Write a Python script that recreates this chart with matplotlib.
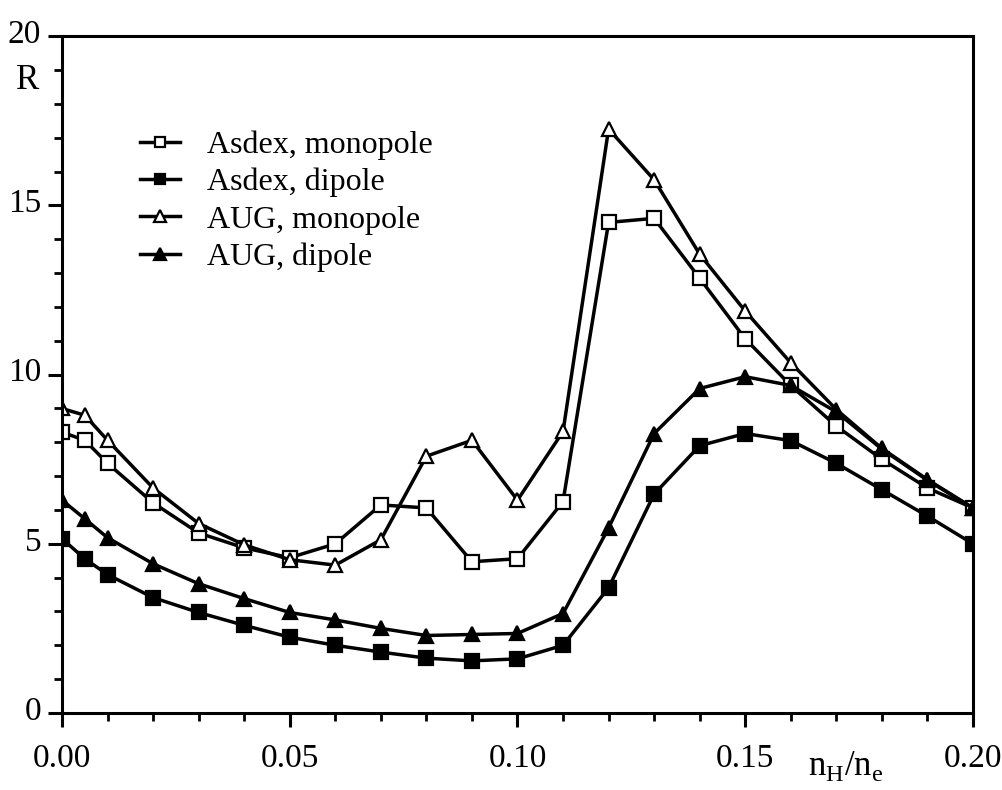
import matplotlib
matplotlib.use("Agg")
import matplotlib.pyplot as plt
import matplotlib.transforms as mtransforms
from matplotlib.ticker import MultipleLocator

x = [0.0, 0.005, 0.01, 0.02, 0.03, 0.04, 0.05, 0.06, 0.07, 0.08, 0.09, 0.10,
     0.11, 0.12, 0.13, 0.14, 0.15, 0.16, 0.17, 0.18, 0.19, 0.20]

asdex_mono = [8.3, 8.06, 7.38, 6.21, 5.32, 4.88, 4.59, 5.0, 6.15, 6.06, 4.47, 4.56,
              6.25, 14.5, 14.62, 12.85, 11.06, 9.68, 8.48, 7.5, 6.65, 6.06]
asdex_dip = [5.15, 4.56, 4.09, 3.41, 2.97, 2.59, 2.24, 2.0, 1.8, 1.62, 1.54, 1.6,
             2.0, 3.7, 6.47, 7.9, 8.26, 8.05, 7.38, 6.6, 5.82, 5.0]
aug_mono = [9.0, 8.8, 8.06, 6.65, 5.6, 4.97, 4.53, 4.37, 5.12, 7.59, 8.06, 6.29,
            8.32, 17.26, 15.76, 13.56, 11.88, 10.35, 8.97, 7.82, 6.9, 6.06]
aug_dip = [6.29, 5.74, 5.18, 4.41, 3.82, 3.38, 2.97, 2.75, 2.5, 2.29, 2.32, 2.35,
           2.94, 5.47, 8.26, 9.59, 9.94, 9.68, 8.9, 7.8, 6.88, 6.06]

labels = ["Asdex, monopole", "Asdex, dipole", "AUG, monopole", "AUG, dipole"]
xticklabels = ["0.00", "0.05", "0.10", "0.15", "0.20"]
yticklabels = ["0", "5", "10", "15", "20"]

plt.rcParams['font.family'] = ['Liberation Serif', 'DejaVu Serif']
plt.rcParams['mathtext.fontset'] = 'custom'
plt.rcParams['mathtext.rm'] = 'Liberation Serif'

fig = plt.figure(figsize=(10.02, 7.90), dpi=100)
ax = fig.add_axes([0.0619, 0.0975, 0.9091, 0.8565])

lw = 2.5
ms = 9.5
mew = 1.6
ax.plot(x, asdex_mono, '-', color='black', lw=lw, marker='s', ms=ms,
        mfc='white', mec='black', mew=mew, label=labels[0])
ax.plot(x, asdex_dip, '-', color='black', lw=lw, marker='s', ms=ms,
        mfc='black', mec='black', mew=mew, label=labels[1])
ax.plot(x, aug_mono, '-', color='black', lw=lw, marker='^', ms=ms + 1,
        mfc='white', mec='black', mew=mew, label=labels[2])
ax.plot(x, aug_dip, '-', color='black', lw=lw, marker='^', ms=ms + 1,
        mfc='black', mec='black', mew=mew, label=labels[3])

ax.set_xlim(0, 0.20)
ax.set_ylim(0, 20)
ax.set_xticks([0, 0.05, 0.10, 0.15, 0.20])
ax.set_xticklabels(xticklabels)
ax.set_yticks([0, 5, 10, 15, 20])
ax.set_yticklabels(yticklabels)
ax.xaxis.set_minor_locator(MultipleLocator(0.01))
ax.yaxis.set_minor_locator(MultipleLocator(1))
ax.tick_params(which='major', direction='out', length=10, width=2.2,
               labelsize=24, top=False, right=False)
ax.tick_params(axis='x', which='major', pad=12)
ax.tick_params(axis='y', which='major', pad=5)
ax.tick_params(which='minor', direction='out', length=6, width=2.0,
               top=False, right=False)
for s in ax.spines.values():
    s.set_linewidth(2.2)

# y tick labels sit slightly above their ticks in the original
offset = mtransforms.ScaledTranslation(0, 5 / 100, fig.dpi_scale_trans)
for lab in ax.get_yticklabels():
    lab.set_transform(lab.get_transform() + offset)

ax.text(-0.05, 0.935, "R", transform=ax.transAxes, fontsize=25,
        ha='left', va='center')
ax.text(0.86, -0.078, r"n$_\mathregular{H}$/n$_\mathregular{e}$",
        transform=ax.transAxes, fontsize=25, ha='center', va='center')

leg = ax.legend(loc='upper left', bbox_to_anchor=(0.072, 0.88), frameon=False,
                fontsize=23, handlelength=1.25, handletextpad=0.85,
                labelspacing=0.25, borderaxespad=0, markerscale=0.8)

fig.savefig("out.png", dpi=100)
